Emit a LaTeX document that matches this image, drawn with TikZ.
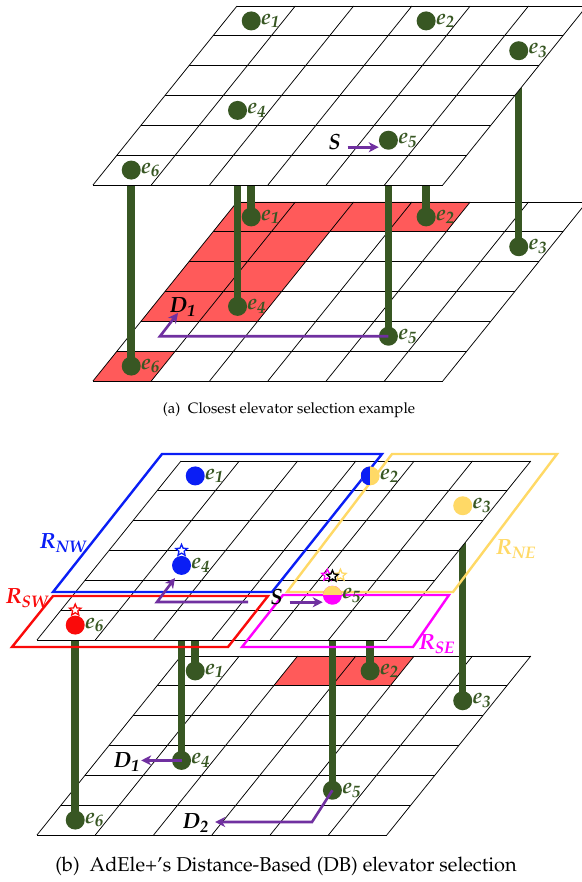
\documentclass[tikz,border=0pt]{standalone}
\usepackage[T1]{fontenc}
\usepackage{mathpazo}
\usepackage{xcolor}
\usepackage{tikz}
\usetikzlibrary{arrows.meta,positioning,shapes.geometric}
\definecolor{elevGreen}{RGB}{56,87,35}
\definecolor{routePurple}{RGB}{112,48,160}
\definecolor{cellRed}{RGB}{255,90,90}
\definecolor{regBlue}{RGB}{10,30,245}
\definecolor{regRed}{RGB}{250,10,10}
\definecolor{regYellow}{RGB}{255,217,102}
\definecolor{regMagenta}{RGB}{255,0,255}
\pgfdeclarelayer{lowfloor}
\pgfdeclarelayer{shaft}
\pgfdeclarelayer{highfloor}
\pgfsetlayers{lowfloor,shaft,highfloor,main}
\newcommand{\lblfont}{\fontsize{22}{26}\selectfont\bfseries\itshape}
\newcommand{\elevlist}{1/0.45/0.5, 2/3.45/0.5, 3/5.45/1.5, 4/1.45/3.5, 5/4.45/4.5, 6/0.45/5.5}

\begin{document}
\begin{tikzpicture}[
    x=1pt, y=-1pt,
    floor/.style={shift={#1}, x={(58.3pt,0pt)}, y={(-24pt,-29.83pt)}},
    cellline/.style={draw=black, line width=0.75pt},
    plate/.style={fill=white},
    elev/.style={circle, fill=elevGreen, minimum size=19pt, inner sep=0pt},
    elab/.style={anchor=west, inner sep=0pt, text=elevGreen, font=\lblfont},
    pillar/.style={draw=elevGreen, line width=7.5pt},
    route/.style={draw=routePurple, line width=2.6pt, -{Stealth[length=10pt,width=10pt,inset=3pt]}},
    region/.style={line width=2.4pt},
    tag/.style={inner sep=0pt, font=\lblfont},
    starmark/.style={star, star points=5, star point ratio=2.2, minimum size=12pt, inner sep=0pt, fill=white, line width=1.3pt},
    caption/.style={inner sep=0pt, font=\fontsize{15}{18}\selectfont}
]
    \useasboundingbox (0,0) rectangle (581,882);

    % ---------- (a) closest elevator selection ----------
    % lower floor
    \begin{scope}[floor={(237,202)}]
        \begin{pgfonlayer}{lowfloor}
            \fill[cellRed] (0,0) -- (4,0) -- (4,1) -- (0,1) -- cycle;
            \fill[cellRed] (0,1) -- (2,1) -- (2,4) -- (0,4) -- cycle;
            \fill[cellRed] (0,5) -- (1,5) -- (1,6) -- (0,6) -- cycle;
            \foreach \k in {0,...,6} {
                \draw[cellline] (\k,0) -- (\k,6);
                \draw[cellline] (0,\k) -- (6,\k);
            }
        \end{pgfonlayer}
        \foreach \ei/\ecol/\erow in \elevlist {
            \node[elev] (la\ei) at (\ecol,\erow) {};
            \node[elab] (lal\ei) at (la\ei.east) {e\textsubscript{\ei}};
        }
    \end{scope}

    % upper floor
    \begin{scope}[floor={(237,6)}]
        \begin{pgfonlayer}{highfloor}
            \fill[plate] (0,0) -- (6,0) -- (6,6) -- (0,6) -- cycle;
            \foreach \k in {0,...,6} {
                \draw[cellline] (\k,0) -- (\k,6);
                \draw[cellline] (0,\k) -- (6,\k);
            }
        \end{pgfonlayer}
        \foreach \ei/\ecol/\erow in \elevlist {
            \node[elev] (ua\ei) at (\ecol,\erow) {};
            \node[elab] (ual\ei) at (ua\ei.east) {e\textsubscript{\ei}};
        }
    \end{scope}

    % shafts
    \begin{pgfonlayer}{shaft}
        \foreach \ei in {1,...,6}
            \draw[pillar] (la\ei.center) -- (la\ei.center |- ua\ei.center);
    \end{pgfonlayer}

    % source and route
    \node[tag, left=38pt of ua5, yshift=-2pt] (sa) {S};
    \draw[route, shorten <=7pt] ([yshift=-5pt]sa.east) -- ([yshift=-5pt]sa.east -| ua5.west);
    \node[tag] (da1) at (183,307) {D\textsubscript{1}};
    \coordinate (aturn) at (160,338);
    \coordinate (atip) at (178,313);
    \draw[route] (la5.center) -- (la5.center -| aturn) -- (atip);

    \node[caption] (capa) at (289,410) {(a)~~Closest elevator selection example};

    % ---------- (b) distance-based selection ----------
    % lower floor
    \begin{scope}[floor={(181,656)}]
        \begin{pgfonlayer}{lowfloor}
            \fill[cellRed] (2,0) -- (4,0) -- (4,1) -- (2,1) -- cycle;
            \foreach \k in {0,...,6} {
                \draw[cellline] (\k,0) -- (\k,6);
                \draw[cellline] (0,\k) -- (6,\k);
            }
        \end{pgfonlayer}
        \foreach \ei/\ecol/\erow in \elevlist {
            \node[elev] (lb\ei) at (\ecol,\erow) {};
            \node[elab] (lbl\ei) at (lb\ei.east) {e\textsubscript{\ei}};
        }
    \end{scope}

    % upper floor plate
    \begin{scope}[floor={(181,461)}]
        \begin{pgfonlayer}{highfloor}
            \fill[plate] (0,0) -- (6,0) -- (6,6) -- (0,6) -- cycle;
            \foreach \k in {0,...,6} {
                \draw[cellline] (\k,0) -- (\k,6);
                \draw[cellline] (0,\k) -- (6,\k);
            }
        \end{pgfonlayer}
    \end{scope}

    % regions
    \draw[region, regBlue] (162,454) -- (382,454) -- (272,592) -- (53,592) -- cycle;
    \draw[region, regYellow] (392,454) -- (557,454) -- (453,592) -- (287,592) -- cycle;
    \draw[region, regRed] (53,596) -- (268,596) -- (228,647) -- (12,647) -- cycle;
    \draw[region, regMagenta] (283,595) -- (449,595) -- (413,647) -- (242,647) -- cycle;
    \node[tag, text=regBlue] (rnw) at (63,543) {R\textsubscript{NW}};
    \node[tag, text=regRed] (rsw) at (27,598) {R\textsubscript{SW}};
    \node[tag, text=regYellow] (rne) at (516,549) {R\textsubscript{NE}};
    \node[tag, text=regMagenta] (rse) at (437,644) {R\textsubscript{SE}};

    % upper floor elevators
    \begin{scope}[floor={(181,461)}]
        \node[elev, fill=regBlue] (ub1) at (0.45,0.5) {};
        \node[elev, fill=regYellow, path picture={\fill[regBlue] (path picture bounding box.south west) rectangle (path picture bounding box.north);}] (ub2) at (3.45,0.5) {};
        \node[elev, fill=regYellow] (ub3) at (5.45,1.5) {};
        \node[elev, fill=regBlue] (ub4) at (1.45,3.5) {};
        \node[elev, fill=regMagenta, path picture={\fill[regYellow] (path picture bounding box.north west) rectangle (path picture bounding box.east);}] (ub5) at (4.45,4.5) {};
        \node[elev, fill=regRed] (ub6) at (0.45,5.5) {};
        \foreach \ei in {1,...,6}
            \node[elab] (ubl\ei) at (ub\ei.east) {e\textsubscript{\ei}};
    \end{scope}

    % stars
    \node[starmark, draw=regBlue] (st4) at ([yshift=15pt]ub4.center) {};
    \node[starmark, draw=regRed] (st6) at ([yshift=15pt]ub6.center) {};
    \node[starmark, draw=regMagenta] (st5m) at ([xshift=-5pt,yshift=20pt]ub5.center) {};
    \node[starmark, draw=regYellow] (st5y) at ([xshift=8pt,yshift=20pt]ub5.center) {};
    \node[starmark, draw=black] (st5k) at ([yshift=19pt]ub5.center) {};

    % shafts
    \begin{pgfonlayer}{shaft}
        \foreach \ei in {1,...,6}
            \draw[pillar] (lb\ei.center) -- (lb\ei.center |- ub\ei.center);
    \end{pgfonlayer}

    % source and routes
    \node[tag, left=40pt of ub5, yshift=-2pt] (sb) {S};
    \draw[route, shorten <=7pt] ([yshift=-5pt]sb.east) -- ([yshift=-5pt]sb.east -| ub5.west);
    \coordinate (bstart) at (248,602);
    \coordinate (bcorner) at (157,602);
    \coordinate (btip) at (175,578);
    \draw[route] (bstart) -- (bcorner) -- (btip);

    \node[tag] (db1) at (127,762) {D\textsubscript{1}};
    \draw[route, shorten >=1pt] (lb4.center) -- (lb4.center -| db1.east);
    \node[tag] (db2) at (196,823) {D\textsubscript{2}};
    \coordinate (bturn) at (312,822);
    \draw[route, shorten >=6pt] (lb5.center) -- (bturn) -- (bturn -| db2.east);

    \node[caption, font=\fontsize{20}{24}\selectfont] (capb) at (286,866) {(b)~~AdEle+'s Distance-Based (DB) elevator selection};
\end{tikzpicture}
\end{document}
